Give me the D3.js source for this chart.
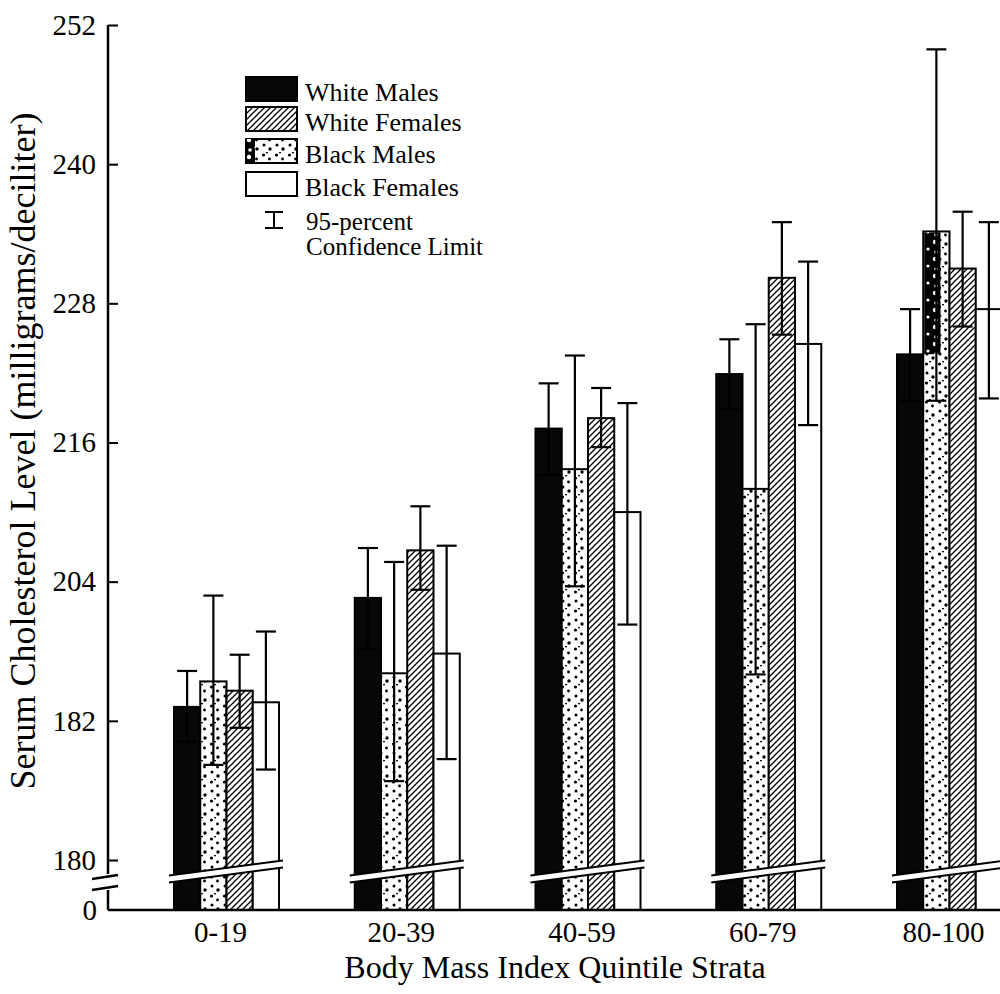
<!DOCTYPE html>
<html><head><meta charset="utf-8">
<script src="https://cdn.jsdelivr.net/npm/d3@7"></script>
<style>
html,body{margin:0;padding:0;background:#fff;}
svg{display:block;font-family:"Liberation Serif","Times New Roman",serif;}
</style>
</head><body>
<svg id="chart" width="1000" height="994"></svg>
<script>
// ---------------- data ----------------
const groups = ["0-19", "20-39", "40-59", "60-79", "80-100"];
// order in which bars are drawn inside each group
const barOrder = ["White Males", "Black Males", "White Females", "Black Females"];
// legend order
const legendOrder = ["White Males", "White Females", "Black Males", "Black Females"];

const whiteMales      = [193.2, 202.6, 217.2, 221.9, 223.6];
const whiteMalesLo    = [190.2, 198.2, 213.2, 218.9, 219.6];
const whiteMalesHi    = [196.3, 206.9, 221.1, 224.9, 227.5];

const blackMales      = [195.4, 196.1, 213.7, 212.0, 234.2];
const blackMalesLo    = [188.2, 186.8, 203.6, 196.0, 219.6];
const blackMalesHi    = [202.8, 205.7, 223.5, 226.2, 249.9];

const whiteFemales    = [194.6, 206.7, 218.1, 230.2, 231.0];
const whiteFemalesLo  = [191.4, 203.3, 215.6, 225.3, 226.0];
const whiteFemalesHi  = [197.7, 210.5, 220.7, 235.0, 235.9];

const blackFemales    = [193.6, 197.8, 210.0, 224.5, 227.5];
const blackFemalesLo  = [187.8, 188.7, 200.3, 217.5, 219.8];
const blackFemalesHi  = [199.7, 207.1, 219.4, 231.6, 235.0];

const yTickValues = [180, 192, 204, 216, 228, 240, 252];
const yTickLabels = ["180", "182", "204", "216", "228", "240", "252"];

const yTitle = "Serum Cholesterol Level (milligrams/deciliter)";
const xTitle = "Body Mass Index Quintile Strata";
const ciLabel = ["95-percent", "Confidence Limit"];

// ---------------- table built from arrays ----------------
const seriesData = {
  "White Males":   {v: whiteMales,   lo: whiteMalesLo,   hi: whiteMalesHi,   fill: "#070707"},
  "Black Males":   {v: blackMales,   lo: blackMalesLo,   hi: blackMalesHi,   fill: "url(#dots)"},
  "White Females": {v: whiteFemales, lo: whiteFemalesLo, hi: whiteFemalesHi, fill: "url(#hatch)"},
  "Black Females": {v: blackFemales, lo: blackFemalesLo, hi: blackFemalesHi, fill: "#ffffff"}
};
const rows = [];
groups.forEach((g, gi) => barOrder.forEach(s => {
  const d = seriesData[s];
  rows.push({group: g, series: s, value: d.v[gi], lo: d.lo[gi], hi: d.hi[gi], fill: d.fill});
}));

// ---------------- layout ----------------
const axisX = 108;
const baseY = 910;
const svg = d3.select("#chart");

const y = d3.scaleLinear().domain([180, 252]).range([860, 25]);
const x = d3.scaleBand().domain(groups).range([174, 1002]).paddingInner(0.419).paddingOuter(0);
const xs = d3.scaleBand().domain(barOrder).range([0, x.bandwidth()]).padding(0);

// ---------------- patterns ----------------
const defs = svg.append("defs");
const hatch = defs.append("pattern").attr("id", "hatch")
  .attr("patternUnits", "userSpaceOnUse").attr("width", 6).attr("height", 6);
hatch.append("rect").attr("width", 6).attr("height", 6).attr("fill", "#fff");
hatch.append("path").attr("d", "M-1,1 l2,-2 M0,6 l6,-6 M5,7 l2,-2")
  .attr("stroke", "#000").attr("stroke-width", 1.3);

const dots = defs.append("pattern").attr("id", "dots")
  .attr("patternUnits", "userSpaceOnUse").attr("width", 13).attr("height", 19);
dots.append("rect").attr("width", 13).attr("height", 19).attr("fill", "#fff");
[[3.5, 3, 1.6], [9.5, 7, 1.4], [4, 12, 1.5], [10, 16, 1.7], [7, 0.5, 1.0]].forEach(p =>
  dots.append("circle").attr("cx", p[0]).attr("cy", p[1]).attr("r", p[2]).attr("fill", "#000"));

const smear = defs.append("pattern").attr("id", "smear")
  .attr("patternUnits", "userSpaceOnUse").attr("width", 14).attr("height", 17);
smear.append("rect").attr("width", 14).attr("height", 17).attr("fill", "#000");
[[11, 4, 2.2], [4, 11, 1.6], [12, 14, 1.8]].forEach(p =>
  smear.append("circle").attr("cx", p[0]).attr("cy", p[1]).attr("r", p[2]).attr("fill", "#fff"));

// ---------------- bars ----------------
const barG = svg.append("g");
barG.selectAll("rect.bar").data(rows).join("rect")
  .attr("class", "bar")
  .attr("x", d => x(d.group) + xs(d.series))
  .attr("y", d => y(d.value))
  .attr("width", xs.bandwidth())
  .attr("height", d => baseY - y(d.value))
  .attr("fill", d => d.fill)
  .attr("stroke", "#000").attr("stroke-width", 2);

// ink smear on the top of the last Black Males bar (as printed)
const smearRow = rows.find(r => r.group === "80-100" && r.series === "Black Males");
barG.append("rect")
  .attr("x", x(smearRow.group) + xs(smearRow.series) + 1)
  .attr("y", y(smearRow.value) + 1)
  .attr("width", xs.bandwidth() * 0.62)
  .attr("height", y(223.7) - y(smearRow.value))
  .attr("fill", "url(#smear)");

// ---------------- break bands across each group ----------------
const bandG = svg.append("g");
groups.forEach(g => {
  const x0 = x(g) - 5, x1 = x(g) + x.bandwidth() + 4;
  const yL = y(180) + 19, yR = y(180) + 4, h = 3.5;
  bandG.append("path")
    .attr("d", `M${x0},${yL - h} L${x1},${yR - h} L${x1},${yR + h} L${x0},${yL + h} Z`)
    .attr("fill", "#fff").attr("stroke", "none");
  bandG.append("path").attr("d", `M${x0},${yL - h} L${x1},${yR - h}`)
    .attr("stroke", "#000").attr("stroke-width", 2).attr("fill", "none");
  bandG.append("path").attr("d", `M${x0},${yL + h} L${x1},${yR + h}`)
    .attr("stroke", "#000").attr("stroke-width", 2).attr("fill", "none");
});

// ---------------- error bars ----------------
const errG = svg.append("g").attr("stroke", "#000").attr("stroke-width", 2.2);
const cx = d => x(d.group) + xs(d.series) + xs.bandwidth() / 2;
errG.selectAll("line.v").data(rows).join("line")
  .attr("x1", cx).attr("x2", cx).attr("y1", d => y(d.hi)).attr("y2", d => y(d.lo));
errG.selectAll("line.t").data(rows).join("line")
  .attr("x1", d => cx(d) - 10).attr("x2", d => cx(d) + 10)
  .attr("y1", d => y(d.hi)).attr("y2", d => y(d.hi));
errG.selectAll("line.b").data(rows).join("line")
  .attr("x1", d => cx(d) - 10).attr("x2", d => cx(d) + 10)
  .attr("y1", d => y(d.lo)).attr("y2", d => y(d.lo));

// ---------------- y axis ----------------
const yAxis = d3.axisLeft(y).tickValues(yTickValues)
  .tickFormat((d, i) => yTickLabels[i]).tickSizeInner(-10).tickSizeOuter(0).tickPadding(12);
const yG = svg.append("g").attr("transform", `translate(${axisX},0)`).call(yAxis);
yG.select(".domain").remove();
yG.selectAll(".tick line").attr("stroke", "#000").attr("stroke-width", 2);
yG.selectAll(".tick text").attr("font-size", 29).attr("fill", "#000")
  .attr("font-family", "'Liberation Serif', serif");

// axis line with break
svg.append("path")
  .attr("d", `M${axisX},${y(252)} L${axisX},${y(180) + 14} M${axisX},${y(180) + 30} L${axisX},${baseY}`)
  .attr("stroke", "#000").attr("stroke-width", 2.5).attr("fill", "none");
[0, 11].forEach(off => svg.append("line")
  .attr("x1", axisX - 16).attr("y1", y(180) + 19 + off)
  .attr("x2", axisX + 10).attr("y2", y(180) + 15 + off)
  .attr("stroke", "#000").attr("stroke-width", 2.5));
svg.append("text").attr("x", axisX - 11).attr("y", baseY).attr("dy", "0.35em")
  .attr("text-anchor", "end").attr("font-size", 29).text("0");

// ---------------- x axis ----------------
const xAxis = d3.axisBottom(x).tickSize(0).tickPadding(11);
const xG = svg.append("g").attr("transform", `translate(0,${baseY})`).call(xAxis);
xG.select(".domain").remove();
xG.selectAll(".tick text").attr("font-size", 29).attr("fill", "#000").attr("dx", -6)
  .attr("font-family", "'Liberation Serif', serif");
svg.append("line").attr("x1", axisX).attr("x2", 1000).attr("y1", baseY).attr("y2", baseY)
  .attr("stroke", "#000").attr("stroke-width", 2.5);

// ---------------- titles ----------------
svg.append("text").attr("x", 555).attr("y", 978).attr("text-anchor", "middle")
  .attr("font-size", 32).text(xTitle);
svg.append("text").attr("transform", `translate(35,451) rotate(-90)`)
  .attr("text-anchor", "middle").attr("font-size", 36).text(yTitle);

// ---------------- legend ----------------
const legendBase = [101, 131, 163, 196];
const lg = svg.append("g");
legendOrder.forEach((s, i) => {
  lg.append("rect").attr("x", 246).attr("y", legendBase[i] - 24).attr("width", 51).attr("height", 24)
    .attr("fill", seriesData[s].fill).attr("stroke", "#000").attr("stroke-width", 2);
  if (s === "Black Males") {
    lg.append("rect").attr("x", 246).attr("y", legendBase[i] - 24).attr("width", 9).attr("height", 24)
      .attr("fill", "url(#smear)");
  }
  lg.append("text").attr("x", 305).attr("y", legendBase[i]).attr("font-size", 26).text(s);
});
const ciX = 274;
lg.append("path").attr("d", `M${ciX - 9},212 H${ciX + 9} M${ciX},212 V228 M${ciX - 9},228 H${ciX + 9}`)
  .attr("stroke", "#000").attr("stroke-width", 2).attr("fill", "none");
const ciText = lg.append("text").attr("x", 306).attr("y", 230).attr("font-size", 25);
ciText.append("tspan").attr("x", 306).attr("y", 230).text(ciLabel[0]);
ciText.append("tspan").attr("x", 306).attr("y", 255).text(ciLabel[1]);
</script>
</body></html>
